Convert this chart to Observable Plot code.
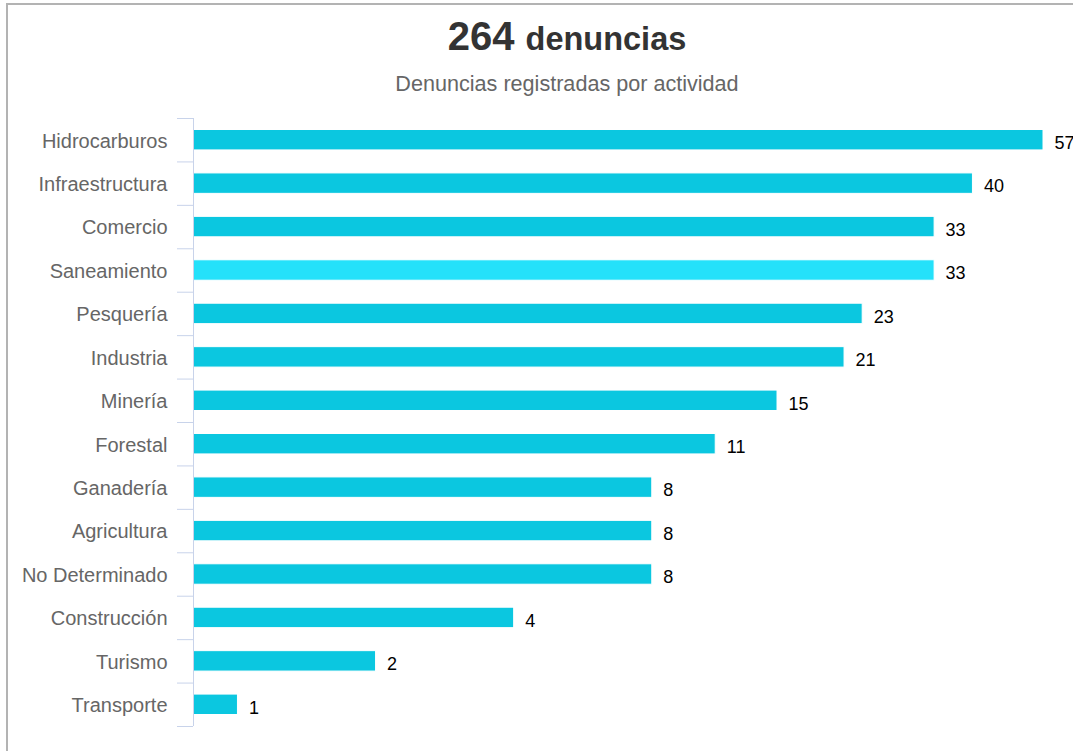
<!DOCTYPE html>
<html>
<head>
<meta charset="utf-8">
<script src="https://cdn.jsdelivr.net/npm/d3@7"></script>
<script src="https://cdn.jsdelivr.net/npm/@observablehq/plot@0.6"></script>
<style>
  html, body { margin: 0; padding: 0; background: #fff; overflow: hidden; width: 1073px; height: 751px; }
  #frame { position: absolute; left: 6px; top: 3px; width: 1200px; height: 900px;
           border-left: 2px solid #b3b3b3; border-top: 2px solid #b3b3b3; }
  .hdr { position: absolute; left: 0; width: 1134px; text-align: center;
         font-family: "Liberation Sans", Arial, sans-serif; white-space: nowrap; }
  #title { top: 16px; font-size: 40px; line-height: 40px; font-weight: bold; color: #333; }
  #title .small { font-size: 32.5px; }
  #subtitle { top: 73px; font-size: 21.6px; line-height: 22px; color: #666; }
  #chart { position: absolute; left: 0; top: 100px; line-height: 0; }
  #chart svg { display: block; }
</style>
</head>
<body>
<div id="frame"></div>
<div id="title" class="hdr">264 <span class="small">denuncias</span></div>
<div id="subtitle" class="hdr">Denuncias registradas por actividad</div>
<div id="chart"></div>
<script>
const categories = ["Hidrocarburos","Infraestructura","Comercio","Saneamiento","Pesquería","Industria","Minería","Forestal","Ganadería","Agricultura","No Determinado","Construcción","Turismo","Transporte"];
const values = [57,40,33,33,23,21,15,11,8,8,8,4,2,1];
const highlighted = "Saneamiento";

const data = categories.map((c, i) => ({category: c, value: values[i]}));
const xMin = 0.8;
const H = 651, mTop = 18, mBottom = 25;
const bw = (H - mTop - mBottom) / categories.length;
const font = "Liberation Sans, Arial, sans-serif";

const chart = Plot.plot({
  width: 1073,
  height: H,
  marginTop: mTop,
  marginBottom: mBottom,
  marginLeft: 193,
  marginRight: 30,
  style: {fontFamily: font, background: "transparent", overflow: "visible"},
  x: {type: "log", domain: [xMin, 57], axis: null},
  y: {type: "band", domain: categories, padding: 0, round: false, axis: null, label: null},
  marks: [
    Plot.barX(data, {
      y: "category", x1: xMin, x2: "value",
      fill: d => d.category === highlighted ? "#24e1fa" : "#0bc7e0",
      stroke: "white", strokeWidth: 1,
      insetTop: 11.5, insetBottom: 11.5
    }),
    Plot.ruleX([xMin], {stroke: "#c8d3ea", strokeWidth: 1}),
    Plot.axisY({anchor: "left", label: null, tickSize: 16, tickFormat: () => "", stroke: "#c8d3ea", dy: -bw / 2}),
    Plot.axisY({anchor: "left", label: null, ticks: [categories[categories.length - 1]], tickSize: 16, tickFormat: () => "", stroke: "#c8d3ea", dy: bw / 2}),
    Plot.axisY({anchor: "left", label: null, tickSize: 0, tickPadding: 26, fill: "#666", fontSize: 20, dy: 1}),
    Plot.text(data, {
      y: "category", x: "value", text: d => String(d.value),
      dx: 11, dy: 3, textAnchor: "start", fontSize: 18, fontWeight: "normal",
      fill: "#000", stroke: "white", strokeWidth: 2, paintOrder: "stroke"
    })
  ]
});
document.getElementById("chart").appendChild(chart);
</script>
</body>
</html>
